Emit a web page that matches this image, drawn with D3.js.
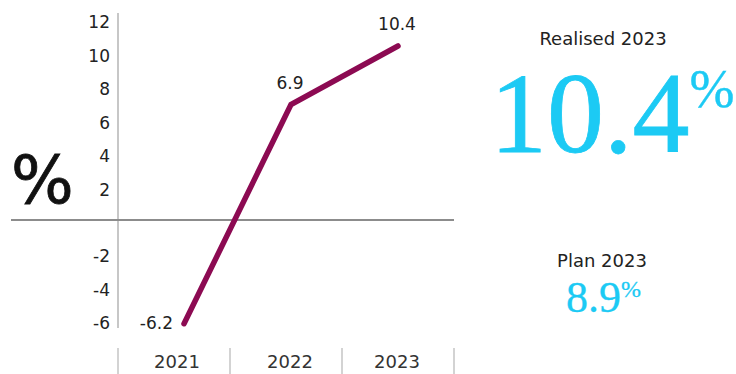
<!DOCTYPE html>
<html>
<head>
<meta charset="utf-8">
<script src="https://cdn.jsdelivr.net/npm/d3@7"></script>
<style>
  body { margin: 0; background: #fff; }
  text { font-family: "DejaVu Sans", "Liberation Sans", sans-serif; }
  .serif { font-family: "Liberation Serif", "DejaVu Serif", serif; }
</style>
</head>
<body>
<div id="chart"></div>
<script>
// chart data
var years = ["2021", "2022", "2023"];
var growth = [-6.2, 6.9, 10.4];
var yTicks = [-6, -4, -2, 2, 4, 6, 8, 10, 12];
var realised = 10.4;
var plan = 8.9;

var width = 736;
var height = 374;

var lineColor = "#8c0a52";
var cyan = "#1ccaf4";

var svg = d3.select("#chart")
  .append("svg")
  .attr("width", width)
  .attr("height", height);

// scales
var y = d3.scaleLinear()
  .domain([0, 10.4])
  .range([220, 46]);

var xBand = d3.scaleBand()
  .domain(years)
  .range([118, 454]);

var xPoint = d3.scalePoint()
  .domain(years)
  .range([184, 398]);

// y axis line
svg.append("line")
  .attr("x1", 118).attr("x2", 118)
  .attr("y1", 13).attr("y2", 328)
  .attr("stroke", "#b4b4b4")
  .attr("stroke-width", 1.5);

// y tick labels
svg.selectAll(".ytick")
  .data(yTicks)
  .enter()
  .append("text")
  .attr("class", "ytick")
  .attr("x", 110)
  .attr("y", d => y(d) + 9)
  .attr("text-anchor", "end")
  .attr("font-size", 17)
  .attr("fill", "#222")
  .text(d => d);

// zero line
svg.append("line")
  .attr("x1", 11).attr("x2", 454)
  .attr("y1", y(0)).attr("y2", y(0))
  .attr("stroke", "#8c8c8c")
  .attr("stroke-width", 2);

// big % unit
svg.append("text")
  .attr("x", 11)
  .attr("y", 203)
  .attr("font-size", 66)
  .attr("fill", "#111")
  .attr("stroke", "#111")
  .attr("stroke-width", 0.8)
  .text("%");

// category separators
var seps = years.map(d => xBand(d)).concat([xBand.range()[1]]);
svg.selectAll(".sep")
  .data(seps)
  .enter()
  .append("line")
  .attr("class", "sep")
  .attr("x1", d => d).attr("x2", d => d)
  .attr("y1", 348).attr("y2", 374)
  .attr("stroke", "#c4c4c4")
  .attr("stroke-width", 1.5);

// year labels
svg.selectAll(".year")
  .data(years)
  .enter()
  .append("text")
  .attr("class", "year")
  .attr("x", (d, i) => i === 0 ? xPoint(d) - 7 : xPoint(d) - 1)
  .attr("y", 368)
  .attr("text-anchor", "middle")
  .attr("font-size", 18)
  .attr("fill", "#333")
  .text(d => d);

// growth line
var line = d3.line()
  .x((d, i) => xPoint(years[i]))
  .y(d => y(d));

svg.append("path")
  .datum(growth)
  .attr("d", line)
  .attr("fill", "none")
  .attr("stroke", lineColor)
  .attr("stroke-width", 5.5)
  .attr("stroke-linecap", "round")
  .attr("stroke-linejoin", "miter");

// value labels
svg.selectAll(".val")
  .data(growth)
  .enter()
  .append("text")
  .attr("class", "val")
  .attr("x", (d, i) => i === 0 ? xPoint(years[i]) - 11 : xPoint(years[i]) - 1)
  .attr("y", (d, i) => i === 0 ? y(d) + 5 : y(d) - 16)
  .attr("text-anchor", (d, i) => i === 0 ? "end" : "middle")
  .attr("font-size", 17)
  .attr("fill", "#222")
  .text(d => d);

// realised / plan callouts
svg.append("text")
  .attr("x", 603).attr("y", 45)
  .attr("text-anchor", "middle")
  .attr("font-size", 18)
  .attr("fill", "#222")
  .text("Realised 2023");

var big = svg.append("text")
  .attr("class", "serif")
  .attr("x", 490).attr("y", 152)
  .attr("fill", cyan)
  .attr("stroke", cyan)
  .attr("stroke-width", 0.8);
big.append("tspan")
  .attr("font-size", 114)
  .text(realised);
big.append("tspan")
  .attr("font-size", 54)
  .attr("dy", -45)
  .attr("stroke-width", 0.4)
  .text("%");

svg.append("text")
  .attr("x", 602).attr("y", 267)
  .attr("text-anchor", "middle")
  .attr("font-size", 18)
  .attr("fill", "#222")
  .text("Plan 2023");

var small = svg.append("text")
  .attr("class", "serif")
  .attr("x", 566).attr("y", 312)
  .attr("fill", cyan)
  .attr("stroke", cyan)
  .attr("stroke-width", 0.3);
small.append("tspan")
  .attr("font-size", 44)
  .text(plan);
small.append("tspan")
  .attr("font-size", 24)
  .attr("dy", -15)
  .text("%");
</script>
</body>
</html>
